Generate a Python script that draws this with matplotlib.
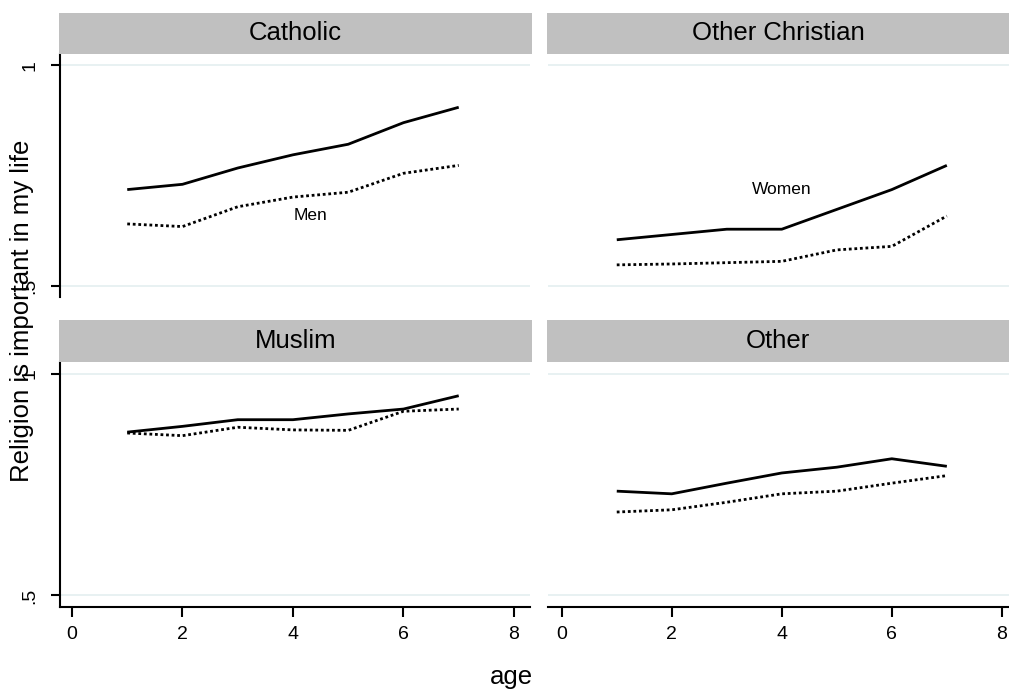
import matplotlib
matplotlib.use("Agg")
import matplotlib.pyplot as plt

plt.rcParams['font.family'] = ['Liberation Sans', 'DejaVu Sans']

age = [1, 2, 3, 4, 5, 6, 7]
panels = ["Catholic", "Other Christian", "Muslim", "Other"]
women = {
    "Catholic":        [0.718, 0.730, 0.767, 0.797, 0.821, 0.870, 0.905],
    "Other Christian": [0.604, 0.616, 0.628, 0.628, 0.673, 0.718, 0.773],
    "Muslim":          [0.868, 0.881, 0.896, 0.896, 0.909, 0.920, 0.950],
    "Other":           [0.735, 0.729, 0.753, 0.776, 0.789, 0.808, 0.791],
}
men = {
    "Catholic":        [0.640, 0.634, 0.679, 0.701, 0.712, 0.755, 0.773],
    "Other Christian": [0.547, 0.549, 0.552, 0.555, 0.581, 0.589, 0.658],
    "Muslim":          [0.866, 0.860, 0.879, 0.873, 0.872, 0.915, 0.920],
    "Other":           [0.688, 0.693, 0.710, 0.729, 0.735, 0.753, 0.770],
}
yticks = [0.5, 1.0]
yticklabels = [".5", "1"]
xticks = [0, 2, 4, 6, 8]
xticklabels = ["0", "2", "4", "6", "8"]

W, H = 1009, 694
fig = plt.figure(figsize=(W / 100, H / 100), dpi=100)


def rect(x0, y0, x1, y1):
    return [x0 / W, 1 - y1 / H, (x1 - x0) / W, (y1 - y0) / H]


layout = {
    "Catholic":        ((60, 54, 530, 297), (59, 13, 532, 54), (-0.217, 8.29), True, False),
    "Other Christian": ((548, 54, 1009, 297), (547, 13, 1009, 54), (-0.25, 8.13), False, False),
    "Muslim":          ((60, 362, 530, 607), (59, 320, 532, 362), (-0.217, 8.29), True, True),
    "Other":           ((548, 362, 1009, 607), (547, 320, 1009, 362), (-0.25, 8.13), False, True),
}

grid_col = "#e8f1f2"
strip_col = "#c0c0c0"

for name in panels:
    r, s, xl, left, bottom = layout[name]
    ax = fig.add_axes(rect(*r))
    for y in yticks:
        ax.axhline(y, color=grid_col, lw=1.4, zorder=0)
    ax.plot(age, women[name], color="black", lw=2.0, solid_capstyle="butt")
    ax.plot(age, men[name], color="black", lw=2.0, linestyle=(0, (1, 1)),
            dash_capstyle="butt")
    ax.set_xlim(*xl)
    ax.set_ylim(0.474, 1.026)
    for sp in ax.spines.values():
        sp.set_visible(False)
    if left:
        ax.spines["left"].set_visible(True)
        ax.spines["left"].set_linewidth(1.5)
        ax.set_yticks(yticks)
        ax.set_yticklabels(yticklabels, rotation=90, va="center", fontsize=14)
        ax.tick_params(axis="y", length=6.5, width=1.5, pad=9)
    else:
        ax.set_yticks([])
    if bottom:
        ax.spines["bottom"].set_visible(True)
        ax.spines["bottom"].set_linewidth(1.5)
        ax.set_xticks(xticks)
        ax.set_xticklabels(xticklabels, fontsize=14)
        ax.tick_params(axis="x", length=7, width=1.5, pad=7)
    else:
        ax.set_xticks([])
    if name == "Catholic":
        ax.text(4.31, 0.66, "Men", fontsize=12.5, ha="center", va="center")
    if name == "Other Christian":
        ax.text(3.99, 0.718, "Women", fontsize=12.5, ha="center", va="center")

    sax = fig.add_axes(rect(*s))
    sax.set_facecolor(strip_col)
    sax.set_xticks([])
    sax.set_yticks([])
    for sp in sax.spines.values():
        sp.set_visible(False)
    sax.text(0.5, 0.5, name, fontsize=18.5, ha="center", va="center",
             transform=sax.transAxes)

fig.text(22 / W, 1 - 311 / H, "Religion is important in my life", rotation=90,
         fontsize=18.5, ha="center", va="center")
fig.text(511 / W, 1 - 677 / H, "age", fontsize=18.5, ha="center", va="center")

fig.savefig("out.png", dpi=100, facecolor="white")
